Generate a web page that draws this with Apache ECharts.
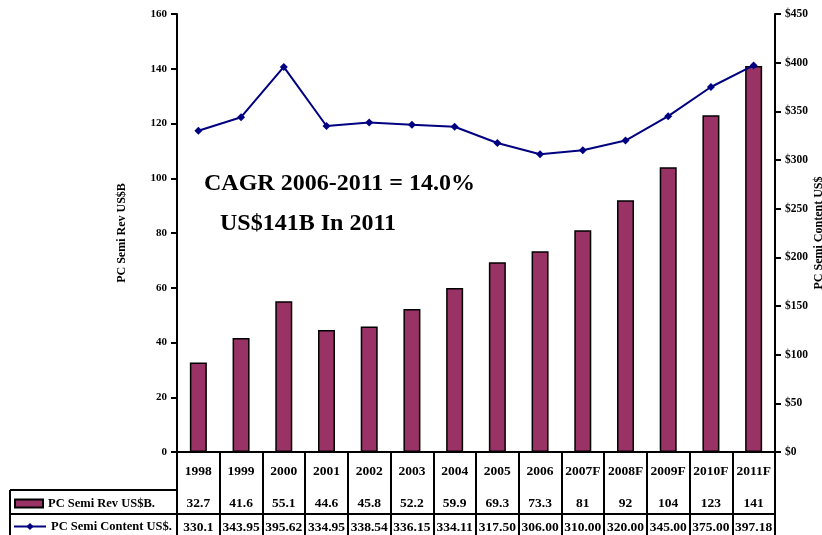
<!DOCTYPE html>
<html><head><meta charset="utf-8">
<script src="https://cdn.jsdelivr.net/npm/echarts@6/dist/echarts.min.js"></script>
<style>html,body{margin:0;padding:0;background:#fff}#c{width:822px;height:535px}</style>
</head><body><div id="c"></div>
<script>
const years = ['1998','1999','2000','2001','2002','2003','2004','2005','2006','2007F','2008F','2009F','2010F','2011F'];
const semiRev = [32.7, 41.6, 55.1, 44.6, 45.8, 52.2, 59.9, 69.3, 73.3, 81, 92, 104, 123, 141];
const semiContent = [330.1, 343.95, 395.62, 334.95, 338.54, 336.15, 334.11, 317.50, 306.00, 310.00, 320.00, 345.00, 375.00, 397.18];
const revLabels = ['32.7','41.6','55.1','44.6','45.8','52.2','59.9','69.3','73.3','81','92','104','123','141'];
const contentLabels = ['330.1','343.95','395.62','334.95','338.54','336.15','334.11','317.50','306.00','310.00','320.00','345.00','375.00','397.18'];
const leftTicks = {min:0, max:160, interval:20};
const rightTicks = {min:0, max:450, interval:50};
const revName = 'PC Semi Rev US$B.';
const contentName = 'PC Semi Content US$.';

const FONT = '"Liberation Serif", "Times New Roman", serif';
const lab = {fontFamily: FONT, fontWeight: 'bold', fontSize: 11, color: '#000'};
const tbl = Object.assign({}, lab, {fontSize: 13.5});
const blk = {color: '#000', width: 2};

const chart = echarts.init(document.getElementById('c'));
chart.setOption({
  animation: false,
  backgroundColor: '#fff',
  grid: {left: 177, right: 47, top: 14, bottom: 83, outerBoundsMode: 'none', containLabel: false},
  legend: [
    {data: [{name: revName, icon: 'rect'}], left: 14, top: 497, itemWidth: 28, itemHeight: 8, itemGap: 0,
     textStyle: Object.assign({}, lab, {fontSize: 12.5}), padding: 0},
    {data: [contentName], left: 13, top: 520, itemWidth: 32, itemHeight: 9, itemGap: 0,
     textStyle: Object.assign({}, lab, {fontSize: 12.5}), padding: 0}
  ],
  xAxis: [
    {type: 'category', data: years, position: 'bottom',
     axisLine: {lineStyle: blk},
     axisTick: {show: true, alignWithLabel: false, length: 83, lineStyle: blk},
     axisLabel: Object.assign({}, tbl, {margin: 13, interval: 0})},
    {type: 'category', data: revLabels, position: 'bottom', offset: 38, gridIndex: 0,
     axisLine: {lineStyle: blk}, axisTick: {show: false},
     axisLabel: Object.assign({}, tbl, {margin: 7, interval: 0})},
    {type: 'category', data: contentLabels, position: 'bottom', offset: 62, gridIndex: 0,
     axisLine: {lineStyle: blk}, axisTick: {show: false},
     axisLabel: Object.assign({}, tbl, {margin: 7, interval: 0})}
  ],
  yAxis: [
    {type: 'value', min: leftTicks.min, max: leftTicks.max, interval: leftTicks.interval,
     name: 'PC Semi Rev US$B', nameLocation: 'middle', nameGap: 49, nameRotate: 90,
     nameMoveOverlap: false,
     nameTextStyle: Object.assign({}, lab, {fontSize: 12}),
     axisLine: {show: true, lineStyle: blk},
     axisTick: {show: true, length: 6, lineStyle: blk},
     splitLine: {show: false},
     axisLabel: Object.assign({}, lab, {margin: 10})},
    {type: 'value', min: rightTicks.min, max: rightTicks.max, interval: rightTicks.interval,
     position: 'right',
     name: 'PC Semi Content US$', nameLocation: 'middle', nameGap: 38, nameRotate: 90,
     nameMoveOverlap: false,
     nameTextStyle: Object.assign({}, lab, {fontSize: 12}),
     axisLine: {show: true, lineStyle: blk},
     axisTick: {show: true, length: 6, lineStyle: blk},
     splitLine: {show: false},
     axisLabel: Object.assign({}, lab, {margin: 10, fontSize: 11.5, formatter: v => '$' + v})}
  ],
  series: [
    {name: revName, type: 'bar', data: semiRev, xAxisIndex: 0, yAxisIndex: 0,
     barWidth: 17,
     itemStyle: {color: '#993366', borderColor: '#000', borderWidth: 1.5}},
    {name: contentName, type: 'line', data: semiContent, xAxisIndex: 0, yAxisIndex: 1,
     symbol: 'diamond', symbolSize: 8,
     lineStyle: {color: '#000080', width: 2},
     itemStyle: {color: '#000080'}}
  ],
  graphic: [
    {type: 'text', left: 204, top: 172, style: {text: 'CAGR 2006-2011 = 14.0%', font: 'bold 24px ' + FONT, fill: '#000'}},
    {type: 'text', left: 220, top: 212, style: {text: 'US$141B In 2011', font: 'bold 24px ' + FONT, fill: '#000'}},
    {type: 'line', shape: {x1: 10, y1: 490, x2: 177, y2: 490}, style: {stroke: '#000', lineWidth: 2}},
    {type: 'line', shape: {x1: 10, y1: 514, x2: 177, y2: 514}, style: {stroke: '#000', lineWidth: 2}},
    {type: 'line', shape: {x1: 10, y1: 490, x2: 10, y2: 535}, style: {stroke: '#000', lineWidth: 2}}
  ]
});
</script></body></html>
